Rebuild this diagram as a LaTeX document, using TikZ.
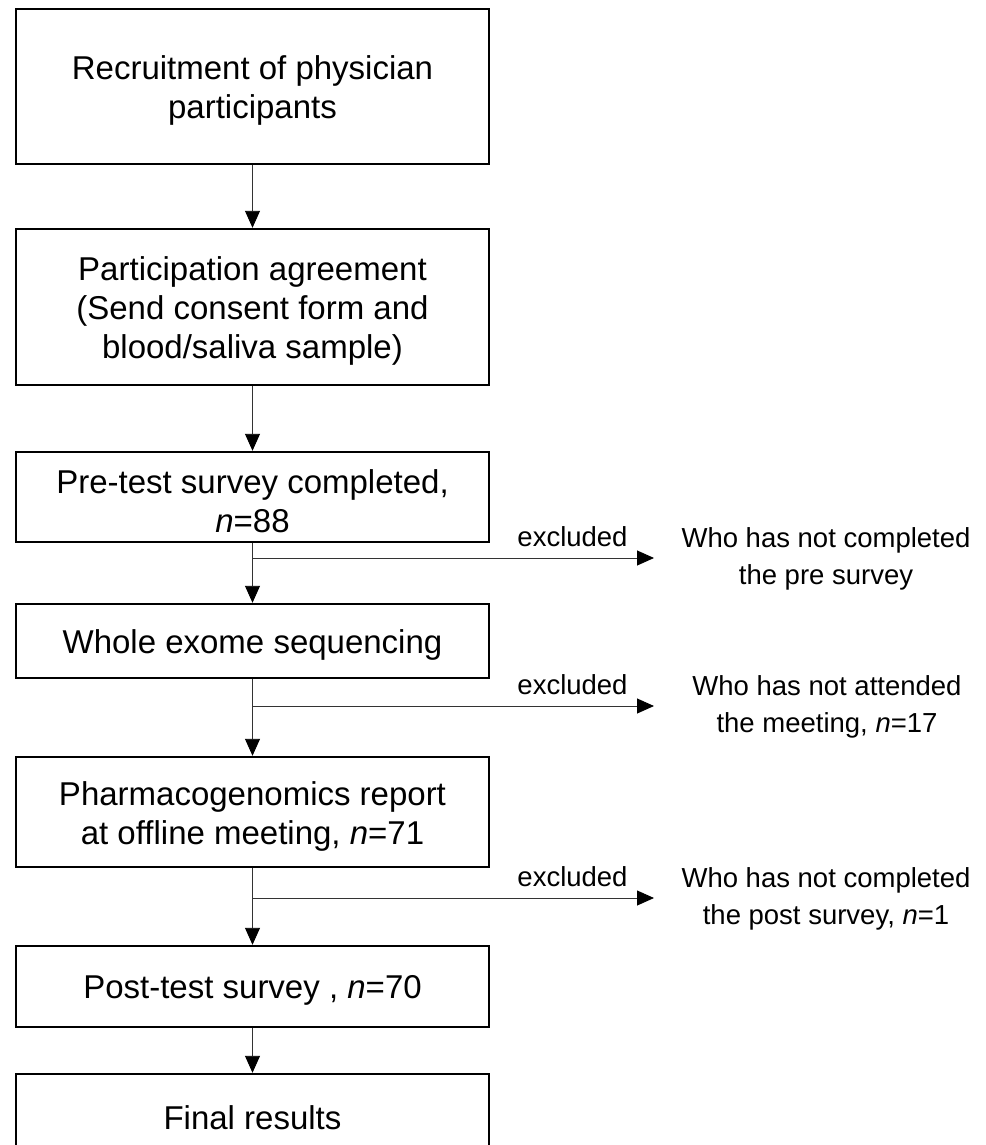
\documentclass[tikz,border=0pt]{standalone}
\usepackage{fontspec}
\setmainfont{Liberation Sans}
\usetikzlibrary{arrows.meta}
\begin{document}
\begin{tikzpicture}[x=1pt,y=-1pt,
  box/.style={draw=black,line width=2.4pt,minimum width=473pt,inner sep=0pt},
  txt/.style={align=center,inner sep=0pt,yshift=-4pt,font=\fontsize{33}{39}\selectfont},
  conn/.style={draw=black!80,line width=0.9pt,-{Triangle[width=15pt,length=17pt,color=black]}},
  side/.style={align=center,inner sep=0pt,font=\fontsize{27.5}{37}\selectfont},
  lbl/.style={inner sep=0pt,anchor=base,font=\fontsize{27.5}{33}\selectfont}]
\useasboundingbox (0,0) rectangle (985,1145);
\node[box,minimum height=155pt,label={[txt]center:{Recruitment of physician\\participants}}] (b1) at (252.5,86.5) {};
\node[box,minimum height=156pt,label={[txt]center:{Participation agreement\\(Send consent form and\\blood/saliva sample)}}] (b2) at (252.5,307) {};
\node[box,minimum height=90pt,label={[txt]center:{Pre-test survey completed,\\\textit{n}=88}}] (b3) at (252.5,497) {};
\node[box,minimum height=74pt,label={[txt]center:{Whole exome sequencing}}] (b4) at (252.5,641) {};
\node[box,minimum height=110pt,label={[txt]center:{Pharmacogenomics report\\at offline meeting, \textit{n}=71}}] (b5) at (252.5,812) {};
\node[box,minimum height=81pt,label={[txt]center:{Post-test survey , \textit{n}=70}}] (b6) at (252.5,986.5) {};
\node[box,minimum height=80pt,label={[txt]center:{Final results}}] (b7) at (252.5,1114) {};

\coordinate (j1) at (252.5,558);
\coordinate (j2) at (252.5,706);
\coordinate (j3) at (252.5,898);
\coordinate (e1) at (654,558);
\coordinate (e2) at (654,706);
\coordinate (e3) at (654,898);

\node[side] (s1) at (826,559) {Who has not completed\\the pre survey};
\node[side] (s2) at (827,707) {Who has not attended\\the meeting, \textit{n}=17};
\node[side] (s3) at (826,899) {Who has not completed\\the post survey, \textit{n}=1};

\node[lbl] (l1) at (572.5,546) {excluded};
\node[lbl] (l2) at (572.5,694) {excluded};
\node[lbl] (l3) at (572.5,886) {excluded};

\draw[conn] (b1) -- (b2);
\draw[conn] (b2) -- (b3);
\draw[conn] (b3) -- (b4);
\draw[conn] (b4) -- (b5);
\draw[conn] (b5) -- (b6);
\draw[conn] (b6) -- (b7);
\draw[conn] (j1) -- (e1);
\draw[conn] (j2) -- (e2);
\draw[conn] (j3) -- (e3);
\end{tikzpicture}
\end{document}
